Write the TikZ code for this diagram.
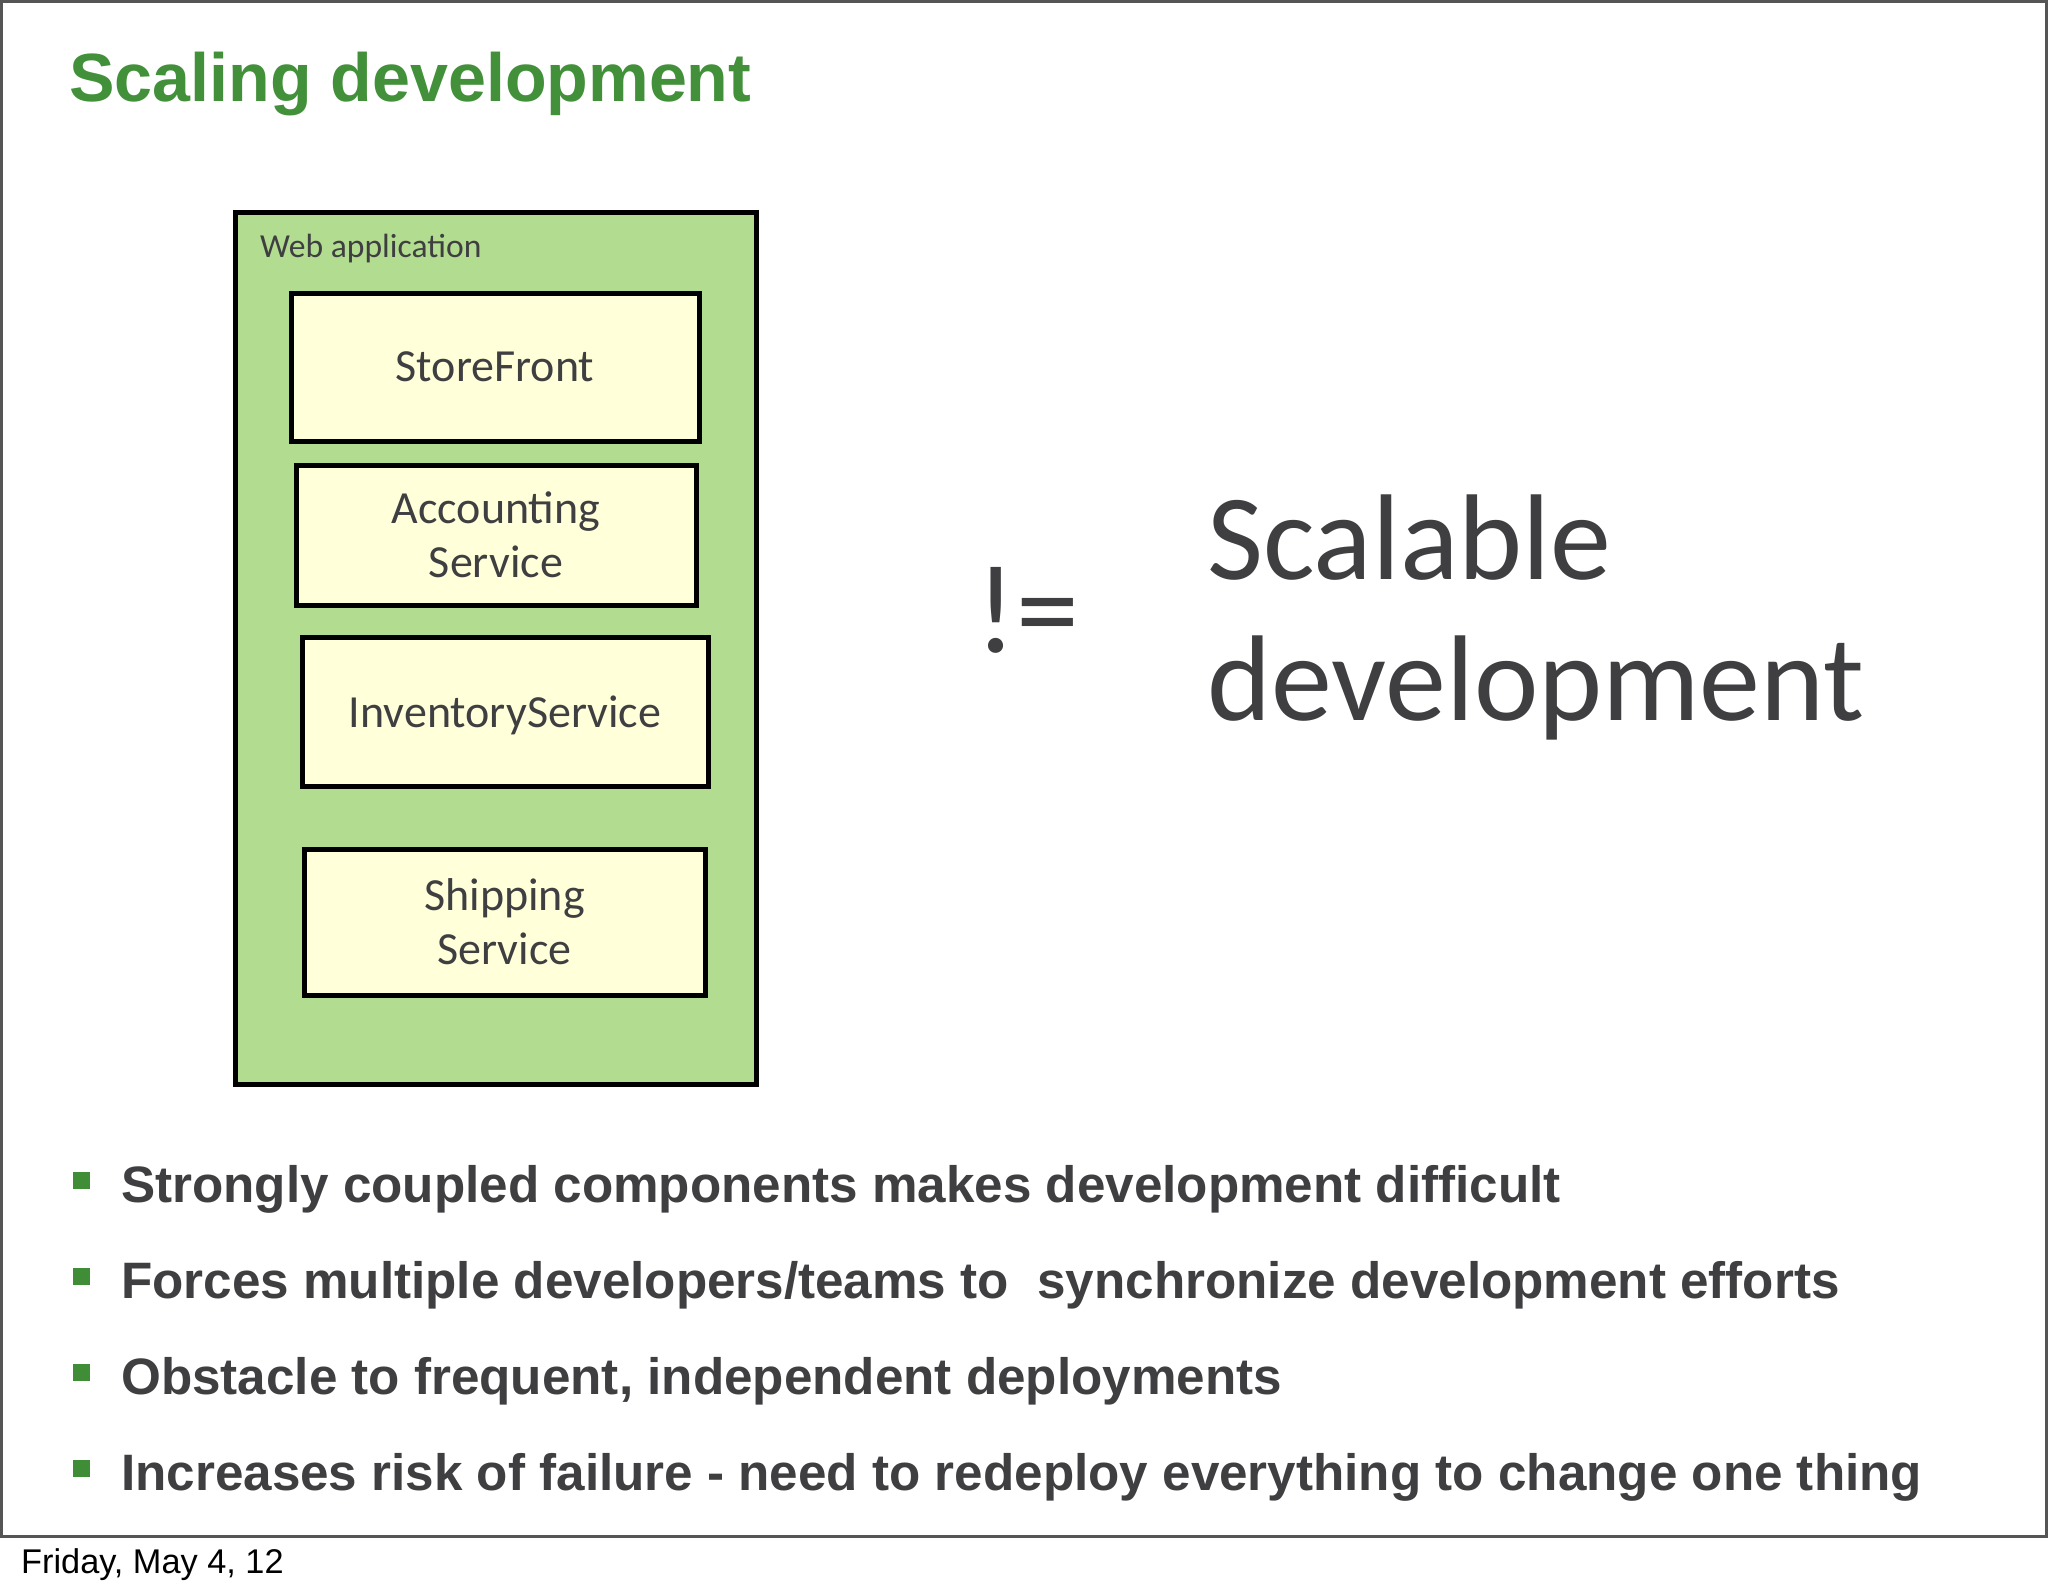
\documentclass[tikz,border=0pt]{standalone}
\usepackage{fontspec}
\setmainfont{Liberation Sans}
\newfontfamily\gill{Carlito}
\definecolor{titlegreen}{HTML}{42903A}
\definecolor{bulletgreen}{HTML}{3F8E37}
\definecolor{appgreen}{HTML}{B2DC8F}
\definecolor{boxyellow}{HTML}{FFFFDA}
\definecolor{darktext}{HTML}{3F3F42}
\definecolor{framegray}{HTML}{555555}
\tikzset{
  appbox/.style={draw=black, line width=5pt, fill=appgreen, inner sep=0pt},
  svcbox/.style={draw=black, line width=5pt, fill=boxyellow, inner sep=0pt, align=center,
    text=darktext, font=\gill\fontsize{46}{54}\selectfont},
  bullettext/.style={anchor=base west, inner sep=0pt, text=darktext,
    font=\bfseries\fontsize{51.2}{60}\selectfont},
  bulletsq/.style={fill=bulletgreen, draw=none, minimum size=17pt, inner sep=0pt}
}
\begin{document}
\begin{tikzpicture}[x=1pt, y=-1pt]
\useasboundingbox (0,0) rectangle (2048,1593);
\fill[white] (0,0) rectangle (2048,1593);
\draw[framegray, line width=3pt] (1.5,1.5) rectangle (2046,1536);

\node[anchor=base west, inner sep=0pt, text=titlegreen, font=\bfseries\fontsize{68.2}{80}\selectfont] (title) at (69,101) {Scaling development};

\node[appbox, minimum width=521pt, minimum height=872pt] (web) at (495.5,648) {};
\node[anchor=base west, inner sep=0pt, text=darktext, font=\gill\fontsize{33.6}{40}\selectfont] (weblbl) at (260,257) {Web application};

\node[svcbox, minimum width=408pt, minimum height=148pt] (sf) at (495,367) {StoreFront};
\node[svcbox, minimum width=400pt, minimum height=140pt] (acc) at (496,535) {Accounting\\Service};
\node[svcbox, minimum width=406pt, minimum height=149pt, text depth=0pt] (inv) at (505,711.5) {InventoryService};
\node[svcbox, minimum width=401pt, minimum height=146pt] (ship) at (504.5,922) {Shipping\\Service};

\node[anchor=base west, inner sep=0pt, text=darktext, font=\gill\fontsize{126}{140}\selectfont] (neq) at (975,652) {!=};
\node[anchor=base west, inner sep=0pt, text=darktext, align=left, font=\gill\fontsize{122}{141}\selectfont] (scal) at (1207,579) {Scalable};
\node[anchor=base west, inner sep=0pt, text=darktext, align=left, font=\gill\fontsize{122}{141}\selectfont] (dev) at (1207,720) {development};

\node[bulletsq] (b1) at (81.5,1180.5) {};
\node[bullettext] (t1) at (121,1202) {Strongly coupled components makes development difficult};
\node[bulletsq] (b2) at (81.5,1276.5) {};
\node[bullettext] (t2) at (121,1298) {Forces multiple developers/teams to\ \ synchronize development efforts};
\node[bulletsq] (b3) at (81.5,1372.5) {};
\node[bullettext] (t3) at (121,1394) {Obstacle to frequent, independent deployments};
\node[bulletsq] (b4) at (81.5,1468.5) {};
\node[bullettext] (t4) at (121,1490) {Increases risk of failure - need to redeploy everything to change one thing};

\node[anchor=base west, inner sep=0pt, text=black, font=\fontsize{34.3}{40}\selectfont] (date) at (21,1573) {Friday, May 4, 12};
\end{tikzpicture}
\end{document}
